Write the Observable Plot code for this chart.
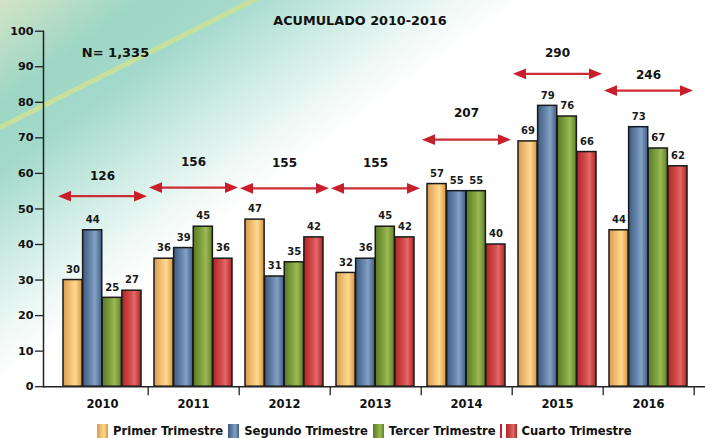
<!DOCTYPE html>
<html><head><meta charset="utf-8">
<script src="https://cdn.jsdelivr.net/npm/d3@7"></script>
<script src="https://cdn.jsdelivr.net/npm/@observablehq/plot@0.6"></script>
<style>
html,body{margin:0;padding:0;background:#fff;}
#wrap{position:relative;width:705px;height:438px;overflow:hidden;font-family:"DejaVu Sans",Verdana,sans-serif;color:#111;
background:linear-gradient(144deg,#d3e4c4 0%,#b5dcc6 6%,#9dd6c5 11%,#a3d9cb 18%,#bde5da 24%,#d8f0ea 30%,#eef8f5 35%,#ffffff 40%);}
#swoosh{position:absolute;left:0;top:124.5px;width:300px;height:5px;background:#c6e19c;transform-origin:0 50%;transform:rotate(-26.7deg);}
#title{position:absolute;left:0;width:720px;top:13px;text-align:center;font-weight:bold;font-size:12.8px;line-height:15px;}
#chart{position:absolute;left:0;top:0;}
#legend{position:absolute;left:97px;top:424px;display:flex;align-items:center;font-weight:bold;font-size:11.6px;line-height:14px;white-space:nowrap;}
.item{display:flex;align-items:center;margin-right:5px;}
.sw{width:11px;height:14px;margin-right:5px;}
.sep{width:2px;height:14px;background:#c8202a;margin-right:4px;margin-left:-1px;}
</style></head>
<body>
<div id="wrap">
  <div id="swoosh"></div>
  <div id="title">ACUMULADO 2010-2016</div>
  <div id="chart"></div>
  <div id="legend"></div>
</div>
<script>
// ---- data ----
const years = ["2010","2011","2012","2013","2014","2015","2016"];
const primer  = [30,36,47,32,57,69,44];
const segundo = [44,39,31,36,55,79,73];
const tercer  = [25,45,35,45,55,76,67];
const cuarto  = [27,36,42,42,40,66,62];
const seriesNames = ["Primer Trimestre","Segundo Trimestre","Tercer Trimestre","Cuarto Trimestre"];
const totals = [126,156,155,155,207,290,246];
const totalArrowY = [53.6,56.0,55.8,55.8,69.5,88.0,83.3];
const totalLabelY = [59.1,63.1,62.8,62.8,76.9,93.8,87.7];
const yTicks = [0,10,20,30,40,50,60,70,80,90,100];
const nLabel = "N= 1,335";
const nLabelY = 93.9;

// ---- styles ----
const gradients = {
  gPrimer:  [[0,"#d99a4e"],[0.45,"#f6c77c"],[0.65,"#fcd98f"],[1,"#d8953f"]],
  gSegundo: [[0,"#3e5a80"],[0.5,"#6f8fb5"],[0.65,"#84a2c4"],[1,"#3f5d86"]],
  gTercer:  [[0,"#587a26"],[0.5,"#88aa44"],[0.65,"#9cbb55"],[1,"#5f8029"]],
  gCuarto:  [[0,"#ae2626"],[0.5,"#d85050"],[0.65,"#e36a6a"],[1,"#b02424"]]
};
const gradIds = Object.keys(gradients);
const series = [primer, segundo, tercer, cuarto];

const W = 705, H = 420, mL = 43, mR = 0, mT = 30.7, mB = 33.8;
const insL = 12.25, insR = 10, pIn = 0.141;
const step = (W - mL - mR - insL - insR) / years.length;
const bw = step * (1 - pIn);
const q = bw / 4;
const halfSpan = 44.5, headR = 6.5;

const totRows = years.map((year, i) => ({year, total: totals[i], arrowY: totalArrowY[i], labelY: totalLabelY[i]}));

const headRight = {draw(ctx, size) {const r = Math.sqrt(size / Math.PI); ctx.moveTo(r, 0); ctx.lineTo(-r, -0.82 * r); ctx.lineTo(-r, 0.82 * r); ctx.closePath();}};
const headLeft  = {draw(ctx, size) {const r = Math.sqrt(size / Math.PI); ctx.moveTo(-r, 0); ctx.lineTo(r, -0.82 * r); ctx.lineTo(r, 0.82 * r); ctx.closePath();}};

const marks = [];
series.forEach((vals, k) => {
  const rows = years.map((year, i) => ({year, value: vals[i]}));
  marks.push(Plot.barY(rows, {x: "year", y: "value", fill: `url(#${gradIds[k]})`, stroke: "#1a1a1a", strokeWidth: 1.5,
    insetLeft: k * q, insetRight: (3 - k) * q}));
  marks.push(Plot.text(rows, {x: "year", y: "value", text: d => String(d.value), dx: (k - 1.5) * q, dy: -10.5,
    fontSize: 10, fontWeight: "bold", fill: "#1a1a1a"}));
});
marks.push(
  Plot.ruleY(totRows, {x1: "year", x2: "year", y: "arrowY", stroke: "#cc2d35", strokeWidth: 2.3,
    insetLeft: bw / 2 - (halfSpan - 8), insetRight: bw / 2 - (halfSpan - 8)}),
  Plot.dot(totRows, {x: "year", y: "arrowY", symbol: headRight, r: headR, fill: "#c8202a", stroke: "none", dx: halfSpan - headR}),
  Plot.dot(totRows, {x: "year", y: "arrowY", symbol: headLeft, r: headR, fill: "#c8202a", stroke: "none", dx: -(halfSpan - headR)}),
  Plot.text(totRows, {x: "year", y: "labelY", text: d => String(d.total), fontSize: 12, fontWeight: "bold", fill: "#111"}),
  Plot.text([nLabel], {x: () => years[0], y: () => nLabelY, text: d => d, dx: 13, fontSize: 13, fontWeight: "bold", fill: "#111"}),
  Plot.ruleX(years, {x: d => d, y1: 0, y2: 0, dx: step / 2, insetBottom: -9, stroke: "#222", strokeWidth: 1.3}),
  Plot.ruleY([0], {stroke: "#222", strokeWidth: 1.5}),
  Plot.frame({anchor: "left", stroke: "#222", strokeWidth: 1.5}),
  Plot.axisY({ticks: yTicks, tickSize: 8, tickPadding: 2, fontSize: 11.2, fontWeight: "bold", stroke: "#222", strokeWidth: 1.3}),
  Plot.axisX({tickSize: 0, tickPadding: 13.5, fontSize: 11.5, fontWeight: "bold"})
);

const chart = Plot.plot({
  width: W, height: H,
  marginLeft: mL, marginRight: mR, marginTop: mT, marginBottom: mB,
  style: "background: transparent; overflow: visible; font-family: 'DejaVu Sans', Verdana, sans-serif; font-weight: bold; color: #111;",
  x: {type: "band", domain: years, paddingInner: pIn, paddingOuter: pIn / 2, insetLeft: insL, insetRight: insR, label: null},
  y: {domain: [0, 100], label: null},
  marks
});

// gradient defs
const ns = "http://www.w3.org/2000/svg";
const defs = document.createElementNS(ns, "defs");
for (const [id, stops] of Object.entries(gradients)) {
  const g = document.createElementNS(ns, "linearGradient");
  g.setAttribute("id", id);
  g.setAttribute("x1", "0"); g.setAttribute("x2", "1"); g.setAttribute("y1", "0"); g.setAttribute("y2", "0");
  for (const [o, c] of stops) {
    const s = document.createElementNS(ns, "stop");
    s.setAttribute("offset", o); s.setAttribute("stop-color", c);
    g.appendChild(s);
  }
  defs.appendChild(g);
}
chart.insertBefore(defs, chart.firstChild);
document.getElementById("chart").appendChild(chart);

// legend
const legend = document.getElementById("legend");
seriesNames.forEach((name, k) => {
  if (k === 3) { const sep = document.createElement("span"); sep.className = "sep"; legend.appendChild(sep); }
  const item = document.createElement("span"); item.className = "item";
  const sw = document.createElement("span"); sw.className = "sw";
  sw.style.background = "linear-gradient(90deg," + gradients[gradIds[k]].map(([o, c]) => `${c} ${o * 100}%`).join(",") + ")";
  const t = document.createElement("span"); t.textContent = name;
  item.appendChild(sw); item.appendChild(t); legend.appendChild(item);
});
</script>
</body></html>
